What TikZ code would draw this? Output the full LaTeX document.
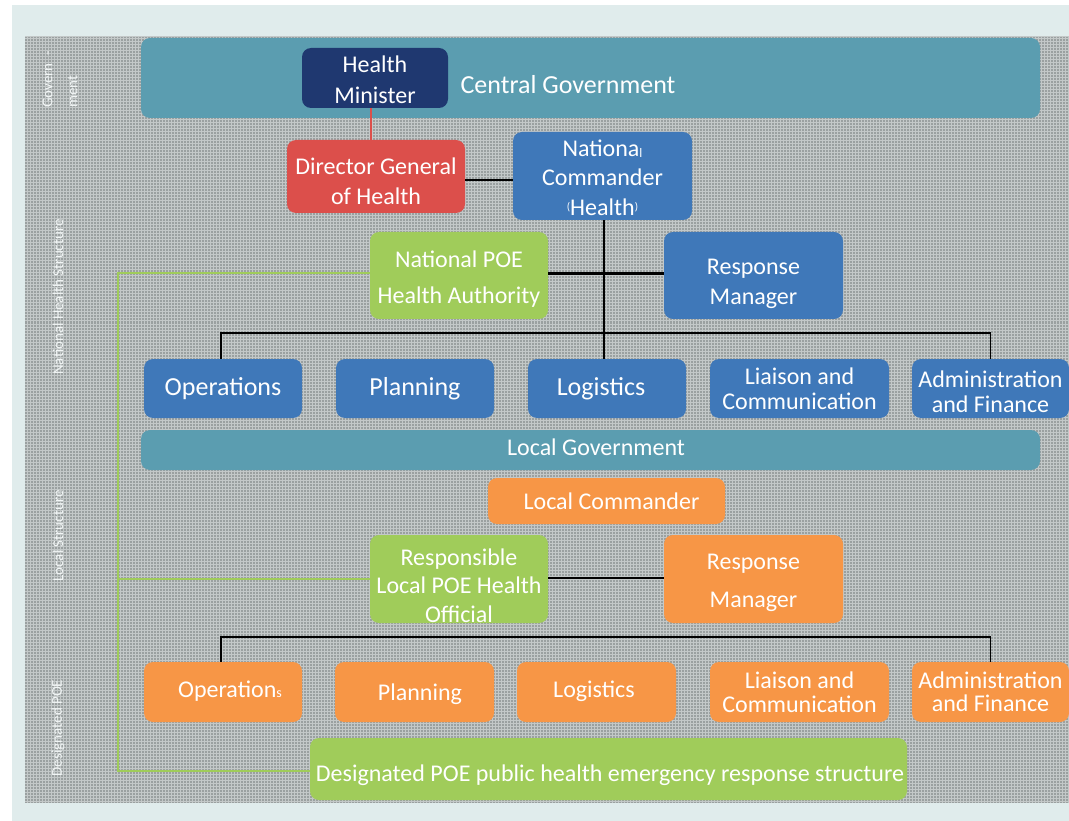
\documentclass[tikz,border=0pt]{standalone}
\usepackage{fontspec}
\setmainfont{Carlito}
\definecolor{framebg}{HTML}{E0ECEC}
\definecolor{patbase}{HTML}{9AA0A0}
\definecolor{patline}{HTML}{C3C8C8}
\definecolor{govteal}{HTML}{5B9DB0}
\definecolor{navy}{HTML}{1F3870}
\definecolor{dgred}{HTML}{DC4F4B}
\definecolor{natblue}{HTML}{3F78B9}
\definecolor{poegreen}{HTML}{A0CC5A}
\definecolor{locorange}{HTML}{F79646}
\definecolor{sidetext}{HTML}{F2F6F6}
\begin{document}
\begin{tikzpicture}[x=1pt,y=-1pt,
  box/.style={rounded corners=9pt, fill=#1, text=white, align=center, inner sep=0pt,
              font=\fontsize{24}{30}\selectfont},
  lbl/.style={text=white, align=center, inner sep=0pt, font=\fontsize{24}{30}\selectfont},
  big/.style={font=\fontsize{26}{30}\selectfont},
  side/.style={rotate=90, text=sidetext, font=\fontsize{15}{25}\selectfont, inner sep=0pt},
  link/.style={draw=black, line width=2.4pt},
  bus/.style={draw=black, line width=1.8pt},
  poelink/.style={draw=poegreen, line width=2pt},
]
\useasboundingbox (0,0) rectangle (1069,821);

% page background and chequered panel
\fill[white] (0,0) rectangle (1069,821);
\fill[framebg] (12,5) rectangle (1069,821);
\fill[patbase] (25,36) rectangle (1069,803);
\draw[patline, line width=1pt, step=3pt] (25,36) grid (1069,803);

% level captions
\node[side, align=left, anchor=west] (sgov) at (60,108) {Govern\hspace{8pt}-\\ment};
\node[side] (snat) at (58,297) {National Health Structure};
\node[side] (sloc) at (58,536) {Local Structure};
\node[side] (spoe) at (58,728) {Designated POE};

% central level
\node[box=govteal, minimum width=899pt, minimum height=80pt,
      label={[lbl, xshift=-22.5pt, yshift=-7pt, font=\fontsize{26}{30}\selectfont]center:Central Government}] (cg) at (590.5,78) {};
\node[box=navy, minimum width=146pt, minimum height=60pt,
      label={[lbl, yshift=-2pt, font=\fontsize{24}{31}\selectfont]center:{Health\\Minister}}] (hm) at (375,78) {};
\node[box=dgred, minimum width=178pt, minimum height=73pt,
      label={[lbl, yshift=-4.5pt]center:{Director General\\of Health}}] (dg) at (376,176.5) {};
\node[box=natblue, minimum width=179pt, minimum height=88pt,
      label={[lbl, yshift=-1.5pt, font=\fontsize{24}{29.5}\selectfont]center:{Nationa\raisebox{-1pt}{\fontsize{13}{13}\selectfont l}\\Commander\\\raisebox{5pt}{\fontsize{11}{11}\selectfont(}Health\raisebox{5pt}{\fontsize{11}{11}\selectfont)}}}] (nc) at (602.5,176) {};
\node[box=poegreen, minimum width=178pt, minimum height=87pt,
      label={[lbl, yshift=-4pt, font=\fontsize{24}{36}\selectfont]center:{National POE\\Health Authority}}] (npoe) at (459,275.5) {};
\node[box=natblue, minimum width=179pt, minimum height=87pt,
      label={[lbl, yshift=-8pt]center:{Response\\Manager}}] (rm) at (753.5,275.5) {};

% national sections
\node[box=natblue, minimum width=158pt, minimum height=59pt, big] (ops) at (223,388.5) {Operations};
\node[box=natblue, minimum width=158pt, minimum height=59pt, big] (pln) at (415,388.5) {Planning};
\node[box=natblue, minimum width=158pt, minimum height=59pt,
      label={[lbl, big, xshift=-6pt]center:Logistics}] (log) at (607,388.5) {};
\node[box=natblue, minimum width=179pt, minimum height=59pt, font=\fontsize{24}{25}\selectfont] (lia) at (799.5,388.5) {Liaison and\\Communication};
\node[box=natblue, minimum width=157pt, minimum height=59pt,
      label={[lbl, font=\fontsize{24}{25}\selectfont, yshift=-3pt]center:{Administration\\and Finance}}] (adm) at (990.5,388.5) {};

% local level
\node[box=govteal, minimum width=899pt, minimum height=40pt,
      label={[lbl, xshift=5.5pt, yshift=3pt]center:Local Government}] (lg) at (590.5,450) {};
\node[box=locorange, minimum width=237pt, minimum height=46pt,
      label={[lbl, xshift=5pt]center:Local Commander}] (lc) at (606.5,501) {};
\node[box=poegreen, minimum width=178pt, minimum height=88pt,
      label={[lbl, yshift=-6.5pt, font=\fontsize{24}{28.5}\selectfont]center:{Responsible\\Local POE Health\\Official}}] (rlpo) at (459,579) {};
\node[box=locorange, minimum width=179pt, minimum height=88pt,
      label={[lbl, yshift=-4pt, font=\fontsize{24}{38}\selectfont]center:{Response\\Manager}}] (lrm) at (753.5,579) {};

% local sections
\node[box=locorange, minimum width=158pt, minimum height=60pt,
      label={[lbl, xshift=7pt, yshift=1pt]center:{Operation{\fontsize{14}{14}\selectfont s}}}] (lops) at (223,692) {};
\node[box=locorange, minimum width=159pt, minimum height=60pt,
      label={[lbl, xshift=5.5pt, yshift=-2pt]center:Planning}] (lpln) at (414.5,692) {};
\node[box=locorange, minimum width=159pt, minimum height=60pt,
      label={[lbl, xshift=-2.5pt, yshift=1pt]center:Logistics}] (llog) at (596.5,692) {};
\node[box=locorange, minimum width=179pt, minimum height=60pt, font=\fontsize{24}{24}\selectfont] (llia) at (799.5,692) {Liaison and\\Communication};
\node[box=locorange, minimum width=157pt, minimum height=60pt, font=\fontsize{24}{23}\selectfont] (ladm) at (990.5,692) {Administration\\and Finance};
\node[box=poegreen, minimum width=597pt, minimum height=62pt,
      label={[lbl, xshift=1.5pt, yshift=-6pt]center:Designated POE public health emergency response structure}] (dpoe) at (608.5,769) {};

% reporting lines
\coordinate (busN) at (604,333);
\coordinate (busL) at (604,637);
\coordinate (poeRail) at (118,273);

\draw[draw=dgred, line width=2.5pt] ([xshift=-4pt]hm.south) -- ([xshift=-4pt]hm.south |- dg.north);
\draw[link] ([yshift=-3.5pt]dg.east) -- ([yshift=-3.5pt]dg.east -| nc.west);
\draw[link] ([xshift=1.5pt]nc.south) -- ([xshift=1.5pt]nc.south |- log.north);
\draw[link] ([yshift=2pt]npoe.east) -- ([yshift=2pt]npoe.east -| rm.west);
\draw[bus] ([xshift=-2pt]ops.north) |- (busN) -| (adm.north);
\draw[link] ([yshift=1pt]rlpo.east) -- ([yshift=1pt]rlpo.east -| lrm.west);
\draw[bus] ([xshift=-2pt]lops.north) |- (busL) -| (ladm.north);

% POE health authority chain
\draw[poelink] (npoe.west |- poeRail) -- (poeRail) |- ([yshift=-2pt]dpoe.west);
\draw[poelink] (rlpo.west) -- (rlpo.west -| poeRail);
\end{tikzpicture}
\end{document}
